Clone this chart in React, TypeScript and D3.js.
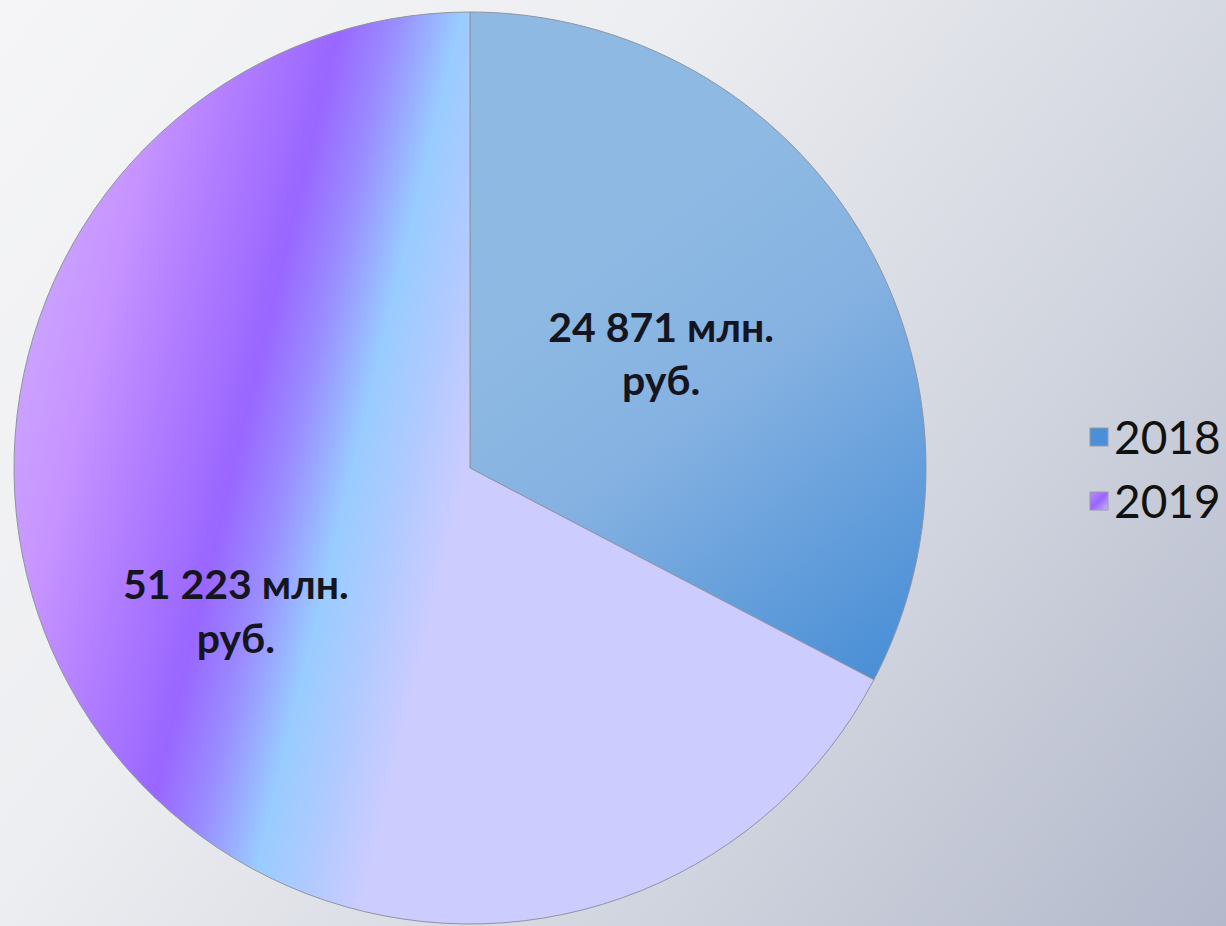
import { useEffect } from 'react';
import * as d3 from 'd3';

const W = 1226;
const H = 926;
const CX = 470;
const CY = 468;
const R = 456;

const years = ['2018', '2019'];
const values = [24871, 51223];
const labelLines = [['24 871 млн.', 'руб.'], ['51 223 млн.', 'руб.']];

// label distance as fraction of radius (Excel places them a bit unevenly)
const labelFrac = [0.49, 0.6];

// 2019 stripes: slanted bands, projection p = x + 0.24*y
const SLANT = 0.24;
const P_MAX = 700;
const stripes: [number, string][] = [
  [100, '#cba4ff'],
  [175, '#c794ff'],
  [260, '#b07cff'],
  [345, '#9966ff'],
  [400, '#9a8cff'],
  [465, '#99ccff'],
  [520, '#b0caff'],
  [580, '#ccccff'],
];

export default function App() {
  useEffect(() => {
    document.body.style.margin = '0';
  }, []);

  const pie = d3.pie<number>().sort(null).value(d => d)(values);
  const arc = d3.arc<d3.PieArcDatum<number>>().innerRadius(0).outerRadius(R);

  const a = P_MAX / (1 + SLANT * SLANT);
  // gradients below are in page coords, pie group is centred
  const shift = `translate(${-CX},${-CY})`;

  return (
    <svg width={W} height={H} style={{ display: 'block' }} fontFamily="Lato, 'Open Sans', sans-serif">
      <defs>
        <linearGradient id="bg" x1="0" y1="0" x2={W} y2={H} gradientUnits="userSpaceOnUse">
          <stop offset="0" stopColor="#f5f5f7" />
          <stop offset="0.35" stopColor="#edeef1" />
          <stop offset="0.7" stopColor="#d0d4de" />
          <stop offset="1" stopColor="#b3b8cb" />
        </linearGradient>
        <linearGradient id="g2018" x1="600" y1="260" x2="900" y2="660" gradientUnits="userSpaceOnUse" gradientTransform={shift}>
          <stop offset="0" stopColor="#8db9e3" />
          <stop offset="0.35" stopColor="#86b2e2" />
          <stop offset="1" stopColor="#4a8fd6" />
        </linearGradient>
        <linearGradient id="g2019" x1="0" y1="0" x2={a} y2={a * SLANT} gradientUnits="userSpaceOnUse" gradientTransform={shift}>
          {stripes.map(([p, c], i) => (
            <stop key={i} offset={p / P_MAX} stopColor={c} />
          ))}
        </linearGradient>
        <linearGradient id="leg2019" x1="0" y1="0" x2="1" y2="1">
          <stop offset="0" stopColor="#b98cff" />
          <stop offset="0.5" stopColor="#9966ff" />
          <stop offset="1" stopColor="#c9b4ff" />
        </linearGradient>
      </defs>
      <rect width={W} height={H} fill="url(#bg)" />
      <g transform={`translate(${CX},${CY})`}>
        {pie.map((d, i) => (
          <path
            key={years[i]}
            d={arc(d) ?? ''}
            fill={i === 0 ? 'url(#g2018)' : 'url(#g2019)'}
            stroke="#8f93a3"
            strokeWidth={1}
          />
        ))}
        {pie.map((d, i) => {
          const mid = (d.startAngle + d.endAngle) / 2;
          const lr = R * labelFrac[i];
          const x = Math.sin(mid) * lr;
          const y = -Math.cos(mid) * lr;
          return (
            <text key={i} x={x} y={y} textAnchor="middle" fontWeight="bold" fontSize={41} fill="#15151f">
              <tspan x={x} dy="-0.25em">{labelLines[i][0]}</tspan>
              <tspan x={x} dy="1.3em">{labelLines[i][1]}</tspan>
            </text>
          );
        })}
      </g>
      <g>
        {years.map((yr, i) => (
          <g key={yr} transform={`translate(1090,${428 + i * 64})`}>
            <rect width={18} height={18} fill={i === 0 ? '#4a90d8' : 'url(#leg2019)'} stroke="#9a9aa8" strokeWidth={1} />
            <text x={24} y={9} dy="0.36em" fontSize={46} fill="#111">{yr}</text>
          </g>
        ))}
      </g>
    </svg>
  );
}
